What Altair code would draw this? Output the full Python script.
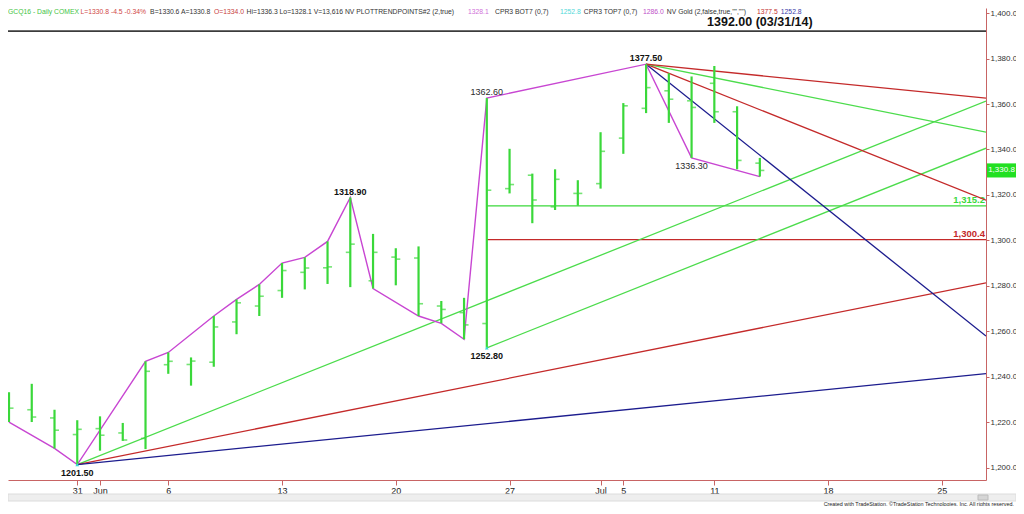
import altair as alt
import pandas as pd

# ---------------- values ----------------
bar_day = list(range(34))  # trading days from May 25 to Jul 13, 2016
bar_open = [1229.7, 1225.6, 1222.0, 1214.7, 1217.3, 1215.4, 1213.0, 1245.4, 1245.5, 1246.5,
            1264.2, 1271.2, 1278.0, 1286.0, 1288.0, 1294.8, 1282.3, 1292.7, 1292.3, 1271.2,
            1268.3, 1263.5, 1322.8, 1328.7, 1314.8, 1320.7, 1325.0, 1345.0, 1358.1, 1365.8,
            1361.4, 1369.1, 1356.6, 1334.0]
bar_high = [1233.3, 1237.0, 1225.6, 1221.0, 1222.7, 1219.8, 1246.9, 1250.8, 1248.6, 1266.8,
            1274.1, 1280.7, 1290.1, 1292.6, 1299.6, 1318.9, 1302.9, 1296.6, 1297.4, 1273.4,
            1274.8, 1362.6, 1340.3, 1329.4, 1331.3, 1326.5, 1347.6, 1360.4, 1377.5, 1373.5,
            1372.1, 1376.7, 1359.0, 1336.3]
bar_low = [1220.2, 1220.2, 1208.6, 1201.5, 1207.6, 1211.9, 1208.3, 1241.4, 1236.2, 1244.5,
           1258.8, 1266.8, 1274.8, 1278.5, 1280.9, 1279.5, 1278.9, 1280.3, 1266.8, 1263.6,
           1256.6, 1252.8, 1320.7, 1307.6, 1313.4, 1315.3, 1322.8, 1338.1, 1356.0, 1351.7,
           1336.3, 1351.7, 1331.3, 1328.1]
bar_close = [1226.3, 1222.4, 1216.6, 1217.0, 1214.4, 1212.3, 1242.5, 1246.9, 1247.0, 1262.0,
             1272.6, 1275.5, 1286.8, 1287.9, 1288.4, 1298.4, 1294.8, 1291.8, 1272.2, 1269.7,
             1262.9, 1322.1, 1324.6, 1317.8, 1326.9, 1320.7, 1339.2, 1359.2, 1367.2, 1362.1,
             1358.5, 1356.6, 1335.2, 1330.8]

tick_days = [3, 4, 7, 12, 17, 22, 26, 27, 31, 36, 41]
tick_labels = ["31", "Jun", "6", "13", "20", "27", "Jul", "5", "11", "18", "25"]

swing_day = [0, 2, 3, 6, 7, 9, 10, 11, 12, 13, 14, 15, 16, 18, 19, 20, 21, 28, 30, 33]
swing_price = [1220.2, 1208.6, 1201.5, 1246.9, 1250.8, 1266.8, 1274.1, 1280.7, 1290.1, 1292.6,
               1299.6, 1318.9, 1278.9, 1266.8, 1263.6, 1256.6, 1362.6, 1377.5, 1336.3, 1328.1]

pivot_day = [3, 15, 21, 21, 28, 30]
pivot_price = [1201.5, 1318.9, 1362.6, 1252.8, 1377.5, 1336.3]
pivot_text = ["1201.50", "1318.90", "1362.60", "1252.80", "1377.50", "1336.30"]
pivot_side = ["below", "above", "above", "below", "above", "below"]
pivot_bold = [True, True, False, True, True, False]

GREEN = "#3ad83a"
LGREEN = "#4cdc4c"
RED = "#c42a2a"
BLUE = "#1c1c8e"
MAGENTA = "#c846d2"
CYAN = "#38d8d8"
AXC = "#c86464"
FONT = "Liberation Sans"

gann_day = [3, 3, 3, 21, 28, 28, 28, 28]
gann_price = [1201.5, 1201.5, 1201.5, 1252.8, 1377.5, 1377.5, 1377.5, 1377.5]
gann_slope = [4, 2, 1, 4, -8, -4, -2, -1]
gann_color = [LGREEN, RED, BLUE, LGREEN, BLUE, RED, LGREEN, RED]

level_day = 21
level_price = [1315.2, 1300.4]
level_text = ["1,315.2", "1,300.4"]
level_color = [GREEN, RED]

old_high = 1392.0
old_high_text = "1392.00 (03/31/14)"
last_price = 1330.8
last_text = "1,330.8"

header_text = ["GCQ16 - Daily COMEX", "L=1330.8 -4.5 -0.34%", "B=1330.6 A=1330.8", "O=1334.0",
               "Hi=1336.3 Lo=1328.1 V=13,616 NV PLOTTRENDPOINTS#2 (2,true)", "1328.1",
               "CPR3 BOT7 (0,7)", "1252.8", "CPR3 TOP7 (0,7)", "1286.0",
               'NV Gold (2,false,true,"","")', "1377.5", "1252.8"]
header_color = ["#44c444", "#d04848", "#333333", "#c84040", "#333333", "#d070d8", "#333333",
                "#50d8d8", "#333333", "#c050c8", "#333333", "#c43030", "#3a3aa8"]
header_ref_px = [0, 70, 135, 197, 225, 460, 487, 552, 570, 635, 654, 749, 767]
HEADER_SIZE = 6.8

copyright_text = "Created with TradeStation. \u00a9TradeStation Technologies, Inc. All rights reserved."

# ---------------- layout ----------------
TOTAL_W, TOTAL_H = 1008, 498      # what fits inside the page margins
W, H = 978, 472
XMIN, XMAX = -0.044, 42.94
YMIN, YMAX = 1194.72, 1402.2


def text_width(s, size):
    """Rough Arial/Liberation Sans advance width, used only to keep header items apart."""
    w = 0.0
    for ch in s:
        if ch.isdigit():
            w += 0.556
        elif ch in ".,:;' ":
            w += 0.278
        elif ch in "()-":
            w += 0.333
        elif ch == "=":
            w += 0.584
        elif ch == "%":
            w += 0.889
        elif ch == '"':
            w += 0.355
        elif ch == "#":
            w += 0.556
        elif ch in "il":
            w += 0.222
        elif ch in "ft":
            w += 0.278
        elif ch == "r":
            w += 0.333
        elif ch in "mM":
            w += 0.833
        elif ch in "W":
            w += 0.944
        elif ch.isupper():
            w += 0.70
        else:
            w += 0.53
    return w * size


header_px = []
for i, t in enumerate(header_text):
    p = header_ref_px[i]
    if i:
        p = max(p, header_px[-1] + text_width(header_text[i - 1], HEADER_SIZE) + 3)
    header_px.append(round(p, 1))

xs = alt.Scale(domain=[XMIN, XMAX], nice=False, zero=False)
ys = alt.Scale(domain=[YMIN, YMAX], nice=False, zero=False)

label_expr = " : ".join(f"datum.value == {d} ? '{t}'" for d, t in zip(tick_days, tick_labels)) + " : ''"
x_axis = alt.Axis(values=tick_days, labelExpr=label_expr, title=None, grid=False,
                  domainColor=AXC, tickColor=AXC, tickSize=5, labelColor="#222222",
                  labelFontSize=9, labelFont=FONT, labelPadding=1, labelFlush=False,
                  labelOverlap=False)
y_axis = alt.Axis(orient="right", values=list(range(1200, 1401, 20)), format=",.1f", title=None,
                  grid=False, domainColor=AXC, tickColor=AXC, tickSize=3, labelColor="#333333",
                  labelFontSize=8, labelFont=FONT, labelPadding=1, labelFlush=False)


def X(f):
    return alt.X(f, type="quantitative", scale=xs, axis=x_axis)


def Y(f):
    return alt.Y(f, type="quantitative", scale=ys, axis=y_axis)


bars = pd.DataFrame({"day": bar_day, "open": bar_open, "high": bar_high,
                     "low": bar_low, "close": bar_close})
swing = pd.DataFrame({"day": swing_day, "price": swing_price})
pivots = pd.DataFrame({"day": pivot_day, "price": pivot_price, "text": pivot_text,
                       "side": pivot_side, "bold": pivot_bold})
gann = pd.DataFrame({"d0": gann_day, "p0": gann_price, "slope": gann_slope, "color": gann_color})
gann["d1"] = XMAX
gann["p1"] = gann["p0"] + gann["slope"] * (gann["d1"] - gann["d0"])
levels = pd.DataFrame({"d0": level_day, "d1": XMAX, "price": level_price,
                       "text": level_text, "color": level_color})
oldhigh = pd.DataFrame({"d0": [XMIN], "d1": [XMAX], "price": [old_high], "text": [old_high_text],
                        "dl": [33.0]})
lows_mark = pd.DataFrame({"day": [3, 21], "price": [1201.5, 1252.8]})
tag = pd.DataFrame({"price": [last_price], "top": [last_price + 3.1], "bot": [last_price - 3.1],
                    "text": [last_text]})
header = pd.DataFrame({"text": header_text, "color": header_color, "px": header_px})

layers = []

# long term high line
layers.append(alt.Chart(oldhigh).mark_rule(color="#3c3c3c", strokeWidth=1.8).encode(
    x=X("d0"), x2="d1", y=Y("price")))
layers.append(alt.Chart(oldhigh).mark_text(font=FONT, fontSize=12.5, fontWeight="bold",
                                           color="#111111", dy=-9).encode(
    x=X("dl"), y=Y("price"), text="text:N"))

# horizontal levels
layers.append(alt.Chart(levels).mark_rule(strokeWidth=1.3, clip=True).encode(
    x=X("d0"), x2="d1", y=Y("price"), color=alt.Color("color:N", scale=None)))
layers.append(alt.Chart(levels).mark_text(font=FONT, fontSize=9.5, fontWeight="bold",
                                          align="right", dx=-1, dy=-6).encode(
    x=X("d1"), y=Y("price"), text="text:N", color=alt.Color("color:N", scale=None)))

# gann angle lines
layers.append(alt.Chart(gann).mark_rule(strokeWidth=1.3, clip=True).encode(
    x=X("d0"), y=Y("p0"), x2="d1", y2="p1", color=alt.Color("color:N", scale=None)))

# swing zigzag
layers.append(alt.Chart(swing).mark_line(color=MAGENTA, strokeWidth=1.4, clip=True).encode(
    x=X("day"), y=Y("price"), order="day:Q"))

# OHLC bars
layers.append(alt.Chart(bars).mark_rule(color=GREEN, strokeWidth=2.2, clip=True).encode(
    x=X("day"), y=Y("low"), y2="high"))
layers.append(alt.Chart(bars).mark_tick(color=GREEN, orient="horizontal", size=4, thickness=1.6,
                                        xOffset=-2.5, clip=True).encode(
    x=X("day"), y=Y("open")))
layers.append(alt.Chart(bars).mark_tick(color=GREEN, orient="horizontal", size=4, thickness=1.6,
                                        xOffset=2.5, clip=True).encode(
    x=X("day"), y=Y("close")))

# cyan markers at swing lows
layers.append(alt.Chart(lows_mark).mark_point(shape="triangle-up", filled=True, size=14,
                                              color=CYAN, opacity=1).encode(
    x=X("day"), y=Y("price")))

# pivot labels
for side, dy in (("above", -6), ("below", 8)):
    for bold in (True, False):
        layers.append(alt.Chart(pivots).transform_filter(
            f"datum.side == '{side}' && datum.bold == {'true' if bold else 'false'}"
        ).mark_text(font=FONT, fontSize=9, fontWeight="bold" if bold else "normal",
                    color="#111111" if bold else "#2a2a2a", dy=dy).encode(
            x=X("day"), y=Y("price"), text="text:N"))

# last price tag on the axis
layers.append(alt.Chart(tag).mark_rect(color="#22e022").encode(
    x=alt.value(W + 1), x2=alt.value(TOTAL_W), y=Y("top"), y2="bot"))
layers.append(alt.Chart(tag).mark_text(font=FONT, fontSize=8, color="white", align="center").encode(
    x=alt.value((W + 1 + TOTAL_W) / 2), y=Y("price"), text="text:N"))

# header line
layers.append(alt.Chart(header).mark_text(font=FONT, fontSize=HEADER_SIZE, align="left",
                                          baseline="top").encode(
    x=alt.X("px:Q", scale=None, axis=None), y=alt.value(1), text="text:N",
    color=alt.Color("color:N", scale=None)))

# scrollbar and copyright
scroll = pd.DataFrame({"a": [0], "b": [TOTAL_W]})
layers.append(alt.Chart(scroll).mark_rect(color="#eeeeee", stroke="#dcdcdc", strokeWidth=1).encode(
    x=alt.X("a:Q", scale=None, axis=None), x2="b:Q", y=alt.value(486), y2=alt.value(493)))
thumb = pd.DataFrame({"a": [W - 8], "b": [W + 2]})
layers.append(alt.Chart(thumb).mark_rect(color="#d6d6d6", stroke="#bcbcbc", strokeWidth=1).encode(
    x=alt.X("a:Q", scale=None, axis=None), x2="b:Q", y=alt.value(487), y2=alt.value(492)))
note = pd.DataFrame({"text": [copyright_text], "px": [TOTAL_W - 2]})
layers.append(alt.Chart(note).mark_text(font=FONT, fontSize=5.4, align="right", baseline="middle",
                                        color="#222222").encode(
    x=alt.X("px:Q", scale=None, axis=None), y=alt.value(495.5), text="text:N"))

chart = alt.layer(*layers).properties(
    width=W, height=H,
    autosize=alt.AutoSizeParams(type="none"),
    padding={"left": 0, "top": 0, "right": TOTAL_W - W, "bottom": TOTAL_H - H},
    background="white",
).configure_view(stroke=None)

chart.save("out.html", embed_options={"renderer": "svg", "actions": False})
